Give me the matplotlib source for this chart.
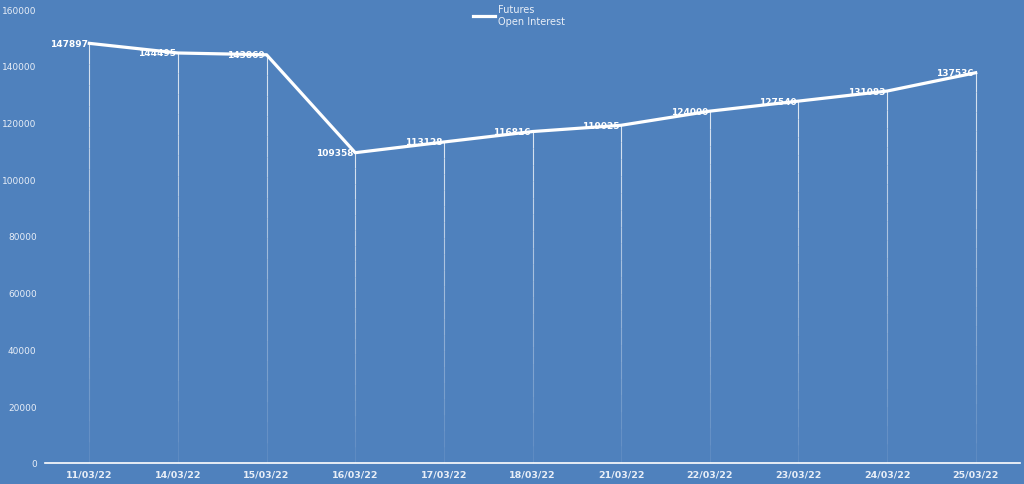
import matplotlib
matplotlib.use("Agg")
import matplotlib.pyplot as plt

dates = ["11/03/22", "14/03/22", "15/03/22", "16/03/22", "17/03/22", "18/03/22",
         "21/03/22", "22/03/22", "23/03/22", "24/03/22", "25/03/22"]
open_interest = [147897, 144495, 143869, 109358, 113128, 116816,
                 119025, 124000, 127540, 131083, 137536]
yticks = [0, 20000, 40000, 60000, 80000, 100000, 120000, 140000, 160000]

bg = "#4f81bd"
txt = "#e8eef7"

fig = plt.figure(figsize=(10.24, 4.85), dpi=100, facecolor=bg)
ax = fig.add_axes([45/1024, 1-464/485, 975/1024, 454/485])
ax.set_facecolor(bg)

x = list(range(len(dates)))

# drop lines, fading towards the bottom
nseg = 20
for i, v in zip(x, open_interest):
    for k in range(nseg):
        y0 = v * k / nseg
        y1 = v * (k + 1) / nseg
        ax.plot([i, i], [y0, y1], color="white", lw=0.8,
                alpha=0.05 + 0.75 * (k + 1) / nseg, solid_capstyle="butt")

ax.plot(x, open_interest, color="white", lw=2.3, label="Futures\nOpen Interest")

for i, v in zip(x, open_interest):
    ax.text(i - 0.02, v, str(v), color="white", fontsize=6.5, fontweight="bold",
            ha="right", va="center")

ax.set_xlim(-0.5, len(dates) - 0.5)
ax.set_ylim(0, 160000)
ax.set_yticks(yticks)
ax.set_yticklabels([str(t) for t in yticks])
ax.set_xticks(x)
ax.set_xticklabels(dates, fontweight="bold")
ax.tick_params(axis="both", colors=txt, labelsize=6.8, length=0)
ax.tick_params(axis="y", labelsize=6.5, pad=6)
ax.tick_params(axis="x", pad=5)
for s in ["top", "right", "left"]:
    ax.spines[s].set_visible(False)
ax.spines["bottom"].set_color("white")
ax.spines["bottom"].set_linewidth(1.2)

leg = ax.legend(loc="upper center", bbox_to_anchor=(0.486, 1.03), frameon=False,
                fontsize=7, handlelength=2.2, handletextpad=0.3)
for t in leg.get_texts():
    t.set_color(txt)

fig.savefig("out.png", dpi=100, facecolor=bg)
